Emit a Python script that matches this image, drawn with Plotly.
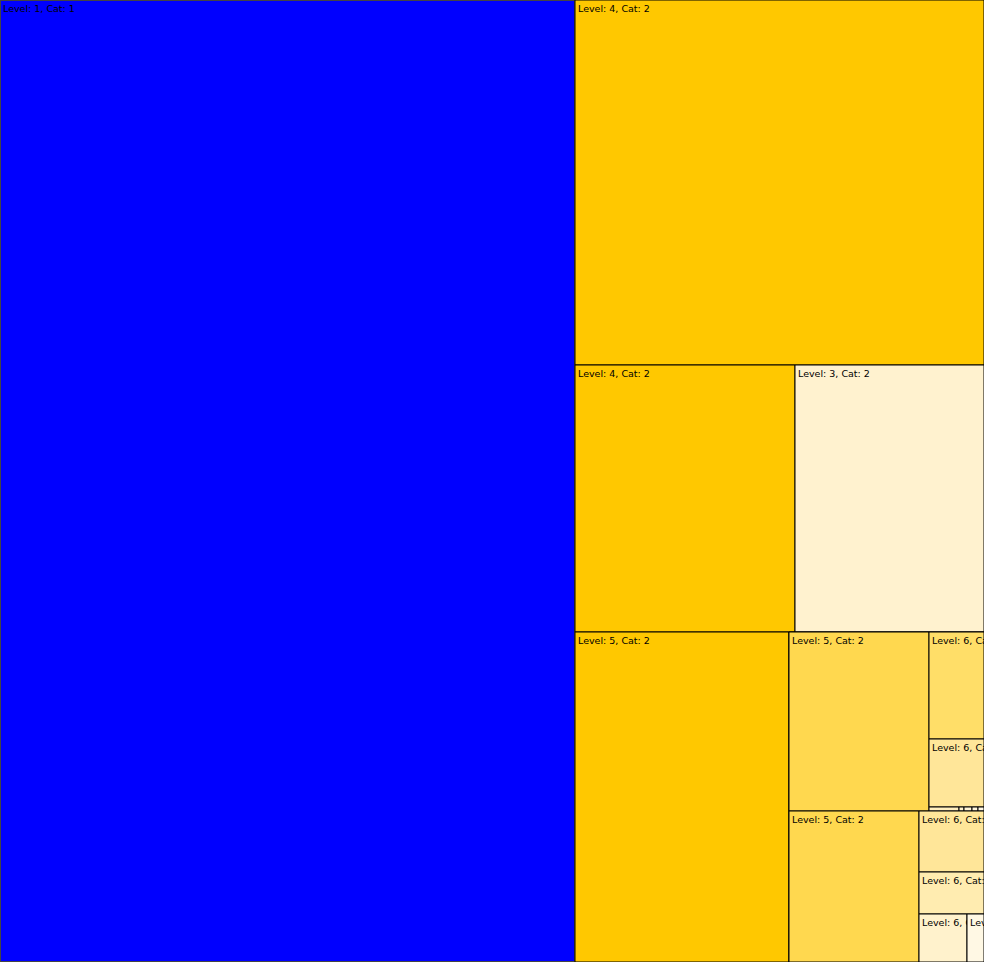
import plotly.graph_objects as go

# Tile hierarchy (flat ids, parents), displayed labels, values and colours
ids = ["c1", "l4a", "l4b", "l3", "l5a", "gA", "gB",
       "l5b", "l6a", "l6b", "t1", "t2", "t3", "t4", "t5",
       "l5c", "l6c", "l6d", "l6e", "l7"]
parents = ["", "", "", "", "", "", "",
           "gA", "gA", "gA", "gA", "gA", "gA", "gA", "gA",
           "gB", "gB", "gB", "gB", "gB"]
labels = ["Level: 1, Cat: 1", "Level: 4, Cat: 2", "Level: 4, Cat: 2", "Level: 3, Cat: 2",
          "Level: 5, Cat: 2", "", "",
          "Level: 5, Cat: 2", "Level: 6, Cat: 2", "Level: 6, Cat: 2", "", "", "", "", "",
          "Level: 5, Cat: 2", "Level: 6, Cat: 2", "Level: 6, Cat: 2", "Level: 6, Cat: 2",
          "Level: 7, Cat: 2"]
values = [553150, 149285, 58740, 50463, 70620, 0, 0,
          25060, 5885, 3740, 120, 20, 32, 24, 24,
          19630, 3965, 2730, 2304, 816]
colors = ["#0000FF", "#FFC800", "#FFC800", "#FFF2CF", "#FFC800", "#FFD84F", "#FFD84F",
          "#FFD84F", "#FFDE68", "#FFE699", "#FFEFBF", "#FFF2CC", "#FFF4D6", "#FFF6DD", "#FFF8E5",
          "#FFD84F", "#FFE699", "#FFECB0", "#FFF2CC", "#FFF8E4"]

fig = go.Figure(go.Treemap(
    ids=ids,
    parents=parents,
    labels=ids,
    text=labels,
    values=values,
    branchvalues="remainder",
    sort=False,
    texttemplate="%{text}",
    textposition="top left",
    textfont=dict(family="DejaVu Sans", size=9.5, color="black"),
    marker=dict(colors=colors, line=dict(color="black", width=1),
                pad=dict(t=0, l=0, r=0, b=0)),
    tiling=dict(packing="squarify", squarifyratio=1, pad=0),
    pathbar=dict(visible=False),
    root=dict(color="white"),
    hoverinfo="skip",
))

fig.update_layout(
    width=984, height=962,
    margin=dict(l=0, r=0, t=0, b=0),
    paper_bgcolor="white",
    uniformtext=dict(minsize=9.5, mode="show"),
)

fig.write_html("out.html", config={"displayModeBar": False},
               post_script="document.body.style.margin='0';")
